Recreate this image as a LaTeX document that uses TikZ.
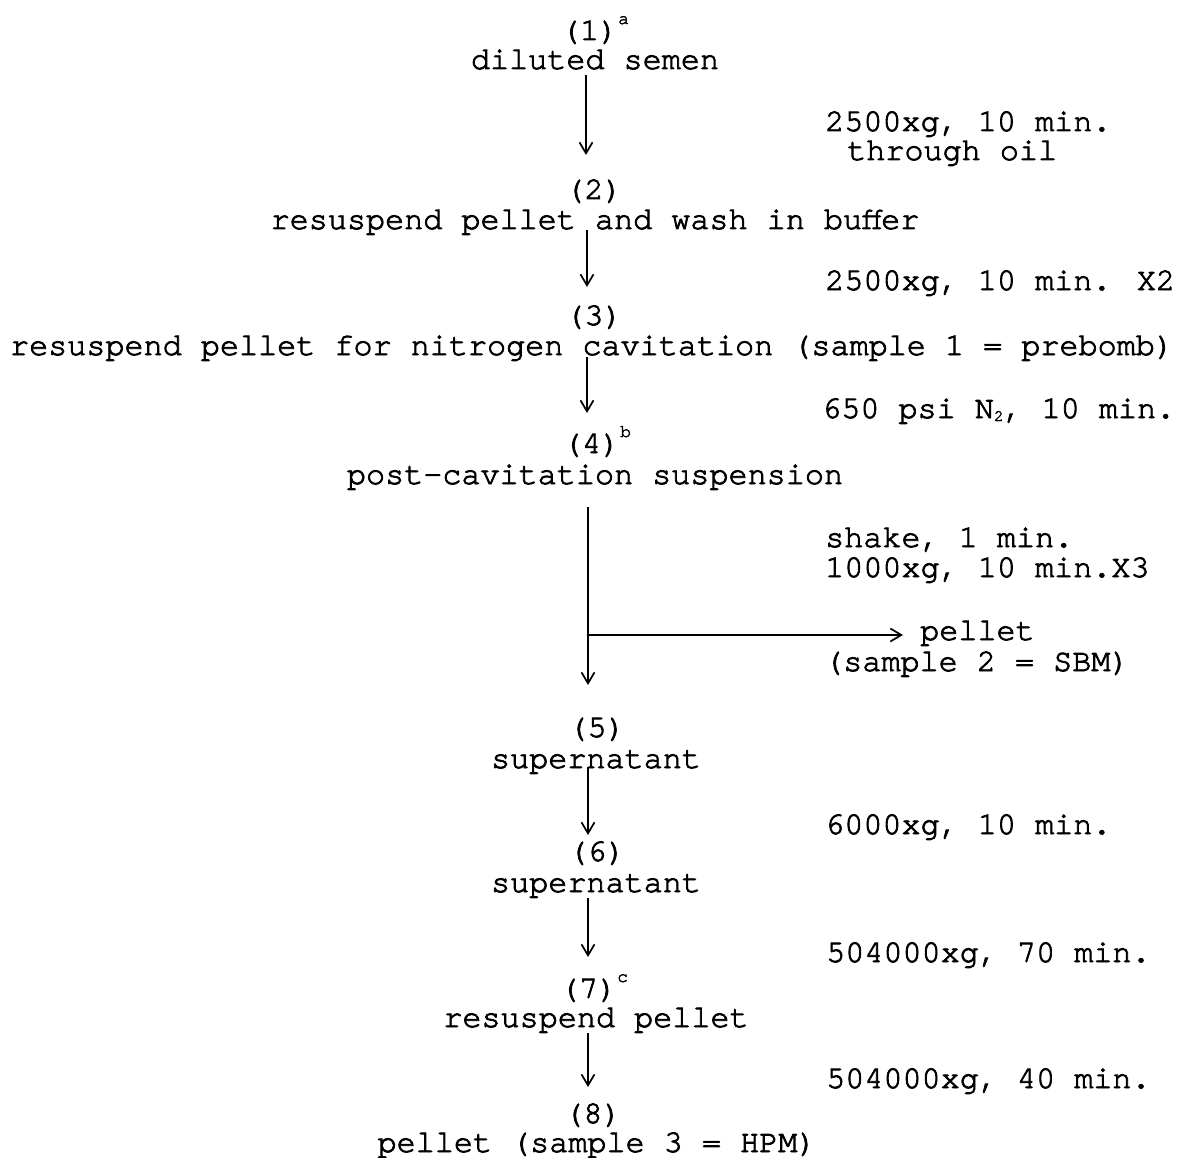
\documentclass[tikz,border=0pt]{standalone}
\usepackage{fontspec}
\setmainfont{texgyrecursor-regular.otf}[FakeBold=2.5]
\usetikzlibrary{arrows.meta,calc}
\newcommand{\supx}[1]{\raisebox{16pt}{\fontsize{18}{18}\selectfont #1}}
\newcommand{\subx}[1]{\raisebox{-3pt}{\fontsize{16}{16}\selectfont #1}}
\begin{document}
\begin{tikzpicture}[x=1pt,y=-1pt,
  txt/.style={inner sep=0pt, anchor=base, font=\fontsize{31.8}{32}\selectfont},
  lbl/.style={inner sep=0pt, anchor=base west, font=\fontsize{31.8}{32}\selectfont},
  arr/.style={line width=1.7pt, -{Straight Barb[length=11pt,width=13pt]}}]
\useasboundingbox[fill=white] (0,0) rectangle (1177,1158);

% step nodes
\node[txt] (n1) at (595,40)   {(1)\supx{a}};
\node[txt] (t1) at (595,69)   {diluted semen};
\node[txt] (n2) at (594,199)  {(2)};
\node[txt] (t2) at (595,229)  {resuspend pellet and wash in buffer};
\node[txt] (n3) at (594,325)  {(3)};
\node[txt] (t3) at (592,355)  {resuspend pellet for nitrogen cavitation (sample 1 = prebomb)};
\node[txt] (n4) at (597,453)  {(4)\supx{b}};
\node[txt] (t4) at (595,484)  {post-cavitation suspension};
\node[txt] (n5) at (597,737)  {(5)};
\node[txt] (t5) at (596,768)  {supernatant};
\node[txt] (n6) at (597,861)  {(6)};
\node[txt] (t6) at (596,892)  {supernatant};
\node[txt] (n7) at (594,998)  {(7)\supx{c}};
\node[txt] (t7) at (596,1027) {resuspend pellet};
\node[txt] (n8) at (593,1123) {(8)};
\node[txt] (t8) at (597,1152) {pellet (sample 3 = HPM)};

% condition labels
\node[lbl] (c1a) at (825,131)  {2500xg, 10 min.};
\node[lbl] (c1b) at (847,160)  {through oil};
\node[lbl] (c2)  at (825,290)  {2500xg, 10 min. X2};
\node[lbl] (c3)  at (822,418)  {650 psi N\subx{2}, 10 min.};
\node[lbl] (c4a) at (825,547)  {shake, 1 min.};
\node[lbl] (c4b) at (825,577)  {1000xg, 10 min.X3};
\node[lbl] (p2)  at (920,640)  {pellet};
\node[lbl] (p2b) at (824,671)  {(sample 2 = SBM)};
\node[lbl] (c5)  at (825,834)  {6000xg, 10 min.};
\node[lbl] (c6)  at (826,962)  {504000xg, 70 min.};
\node[lbl] (c7)  at (826,1088) {504000xg, 40 min.};

% connectors
\draw[arr] ($(t1.base)+(-9,6)$) -- ($(n2.base)+(-8,-44)$);
\draw[arr] ($(t2.base)+(-8,1)$) -- ($(n3.base)+(-7,-38)$);
\draw[arr] ($(t3.base)+(-5,2)$) -- ($(n4.base)+(-10,-40)$);
\draw[arr] ($(t4.base)+(-7,23)$) -- ($(n5.base)+(-9,-52)$);
\coordinate (br) at ($(t4.base)+(-7,151)$);
\draw[arr] (br) -- ($(p2.base west)+(-17,-5)$);
\draw[arr] ($(t5.base)+(-8,-1)$) -- ($(n6.base)+(-9,-26)$);
\draw[arr] ($(t6.base)+(-8,6)$) -- ($(n7.base)+(-6,-41)$);
\draw[arr] ($(t7.base)+(-8,6)$) -- ($(n8.base)+(-5,-36)$);
\end{tikzpicture}
\end{document}
